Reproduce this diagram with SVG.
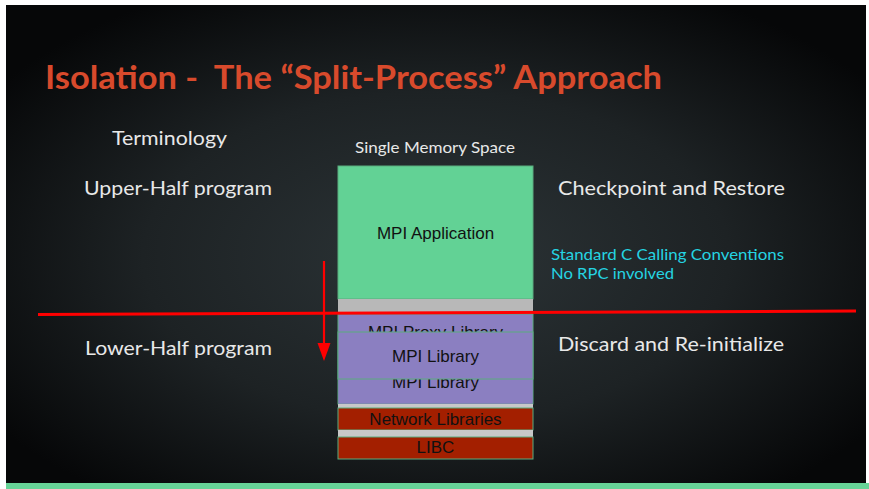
<svg xmlns="http://www.w3.org/2000/svg" width="869" height="489" viewBox="0 0 869 489">
  <defs>
    <radialGradient id="bg" cx="0.5" cy="0.52" r="0.62" gradientUnits="objectBoundingBox">
      <stop offset="0" stop-color="#2c3437"/>
      <stop offset="0.55" stop-color="#1d2224"/>
      <stop offset="1" stop-color="#060708"/>
    </radialGradient>
    <marker id="arrow" markerWidth="12" markerHeight="18" refX="6" refY="17" orient="auto-start-reverse" markerUnits="userSpaceOnUse" viewBox="0 0 12 18">
      <path d="M0,0 L12,0 L6,18 Z" fill="#ff0000" transform="rotate(-90 6 9)"/>
    </marker>
    <style>
      .lbl { font-family: Lato, "Open Sans", "Liberation Sans", sans-serif; fill: #e8e8e8; }
      .big { font-size: 20px; }
      .cyan { font-family: Lato, "Open Sans", "Liberation Sans", sans-serif; fill: #25d4e2; font-size: 15px; }
      .box { stroke: #5aac7f; stroke-width: 1; }
      .btxt { font-family: "Liberation Sans", Arial, sans-serif; font-size: 17px; fill: #111; text-anchor: middle; }
      .green { fill: #62d295; }
      .gray { fill: #b8b8b8; }
      .purple { fill: #8b7fc1; }
      .red { fill: #a31f00; }
      .conn { stroke: #ff0000; fill: none; }
    </style>
  </defs>

  <rect x="0" y="0" width="869" height="489" fill="#ffffff"/>
  <rect x="6" y="5" width="860" height="484" fill="url(#bg)"/>
  <rect x="6" y="483" width="863" height="6" fill="#66d397"/>

  <text x="45" y="89" font-family="Lato, 'Open Sans', 'Liberation Sans', sans-serif" font-weight="bold" font-size="32" fill="#d84a2c" textLength="617" lengthAdjust="spacingAndGlyphs" xml:space="preserve">Isolation -  The “Split-Process” Approach</text>

  <g id="terminology"><text class="lbl big" x="112" y="145" textLength="115" lengthAdjust="spacingAndGlyphs">Terminology</text></g>
  <g id="upper-half"><text class="lbl big" x="84" y="195" textLength="188" lengthAdjust="spacingAndGlyphs">Upper-Half program</text></g>
  <g id="lower-half"><text class="lbl big" x="85" y="355" textLength="187" lengthAdjust="spacingAndGlyphs">Lower-Half program</text></g>
  <g id="single-memory"><text class="lbl" font-size="15" x="355" y="153" textLength="160" lengthAdjust="spacingAndGlyphs">Single Memory Space</text></g>
  <g id="checkpoint"><text class="lbl big" x="558" y="195" textLength="227" lengthAdjust="spacingAndGlyphs">Checkpoint and Restore</text></g>
  <g id="discard"><text class="lbl big" x="558" y="351" textLength="226" lengthAdjust="spacingAndGlyphs">Discard and Re-initialize</text></g>
  <g id="calling-conventions">
    <text class="cyan" x="551" y="260" textLength="233" lengthAdjust="spacingAndGlyphs">Standard C Calling Conventions</text>
    <text class="cyan" x="551" y="279" textLength="123" lengthAdjust="spacingAndGlyphs">No RPC involved</text>
  </g>

  <g id="mpi-application">
    <rect class="green box" x="338" y="166" width="195" height="133"/>
    <text class="btxt" x="435.5" y="239">MPI Application</text>
  </g>
  <g id="gap-1"><rect class="gray" x="338" y="299" width="195" height="15"/></g>
  <g id="mpi-proxy-library">
    <rect class="purple box" x="338" y="314" width="195" height="90"/>
    <text class="btxt" x="435.5" y="338">MPI Proxy Library</text>
  </g>
  <g id="mpi-library-back">
    <rect class="purple" x="338.5" y="333" width="194" height="70.5"/>
    <text class="btxt" x="435.5" y="388">MPI Library</text>
  </g>
  <g id="mpi-library">
    <rect class="purple box" x="338" y="332" width="195" height="47"/>
    <text class="btxt" x="435.5" y="362">MPI Library</text>
  </g>
  <g id="gap-2"><rect fill="#c8c8c8" x="338" y="404" width="195" height="4"/></g>
  <g id="network-libraries">
    <rect class="red box" x="338" y="408" width="195" height="22"/>
    <text class="btxt" x="435.5" y="425">Network Libraries</text>
  </g>
  <g id="gap-3"><rect fill="#c8c8c8" x="338" y="430" width="195" height="7"/></g>
  <g id="libc">
    <rect class="red box" x="338" y="437" width="195" height="22"/>
    <text class="btxt" x="435.5" y="453">LIBC</text>
  </g>

  <g id="connectors">
    <line class="conn" x1="38" y1="314.5" x2="856" y2="311" stroke-width="3"/>
    <line class="conn" x1="324" y1="261" x2="324" y2="345" stroke-width="2.2"/>
    <path d="M317.5,343 L330.5,343 L324,361 Z" fill="#ff0000"/>
  </g>
</svg>
